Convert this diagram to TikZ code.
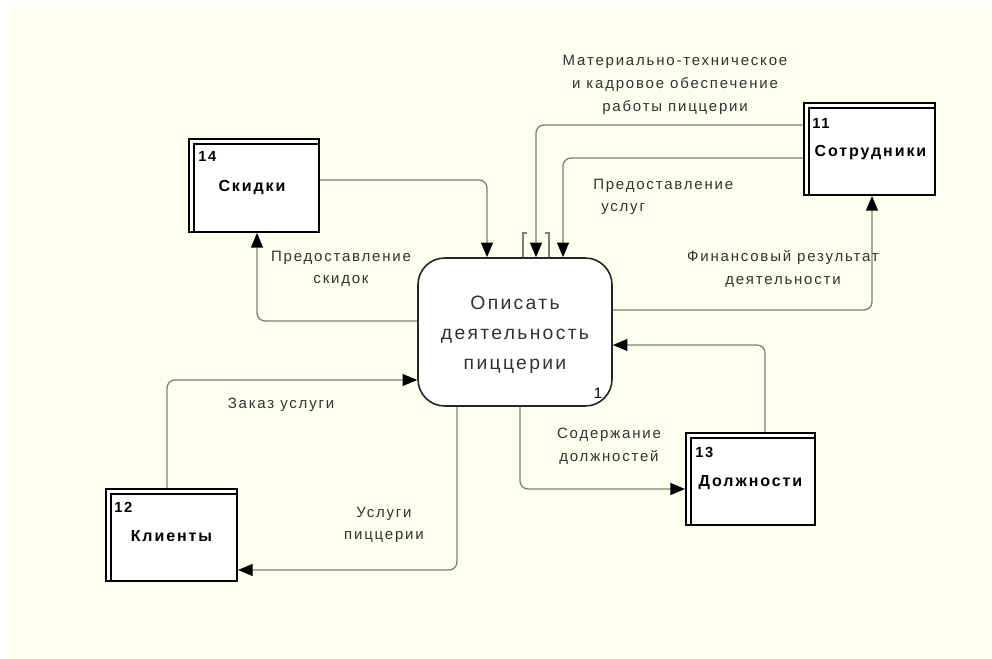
\documentclass[tikz,border=0pt]{standalone}
\usepackage{fontspec}
\setmainfont{Liberation Sans}[LetterSpace=12]
\usetikzlibrary{arrows.meta,calc}
\definecolor{paper}{RGB}{255,255,238}
\definecolor{wire}{RGB}{128,128,112}
\definecolor{ink}{RGB}{50,50,50}
\tikzset{
  entity/.style={draw=black, line width=1.5pt, fill=white, inner sep=0pt},
  process/.style={draw=black!85, line width=1.2pt, fill=white, rounded corners=20pt,
    minimum width={194*0.75pt}, minimum height={148*0.75pt}, inner sep=0pt},
  flow/.style={draw=wire, line width=1pt, rounded corners=6pt,
    -{Triangle[length=11pt,width=9pt,fill=black,color=black]}},
  flowlabel/.style={text=ink, align=center, inner sep=0pt,
    font=\fontsize{11.25}{17}\selectfont},
  entname/.style={font=\bfseries\fontsize{12}{13}\selectfont, inner sep=0pt},
  entnum/.style={font=\bfseries\fontsize{11}{12}\selectfont, inner sep=0pt, anchor=west},
}
\begin{document}
\begin{tikzpicture}[x=0.75pt,y=-0.75pt]
\useasboundingbox (0,0) rectangle (992,659);
\fill[paper] (9,5) rectangle (992,659);

% central process
\node[process] (main) at (515,332) {};
\node[font=\fontsize{14.5}{22.5}\selectfont, text=ink, align=center, inner sep=0pt] (maintext) at (515,335)
  {Описать\\деятельность\\пиццерии};
\node[font=\fontsize{11.25}{12}\selectfont, inner sep=0pt] (mainnum) at (598,393) {1};

% external entities
\node[entity, minimum width={130*0.75pt}, minimum height={93*0.75pt}] (s14) at (254,185.5) {};
\node[entity, minimum width={131*0.75pt}, minimum height={92*0.75pt}] (s11) at (869.5,149) {};
\node[entity, minimum width={131*0.75pt}, minimum height={92*0.75pt}] (s12) at (171.5,535) {};
\node[entity, minimum width={129*0.75pt}, minimum height={92*0.75pt}] (s13) at (750.5,479) {};
\foreach \e in {s14,s11,s12,s13}{
  \draw[line width=1.1pt] ($(\e.south west)+(6,0)$) -- ($(\e.north west)+(6,6)$) -- ($(\e.north east)+(0,6)$);
}
\node[entnum] (n14) at ($(s14.north west)+(10,18)$) {14};
\node[entname] (t14) at ($(s14.center)+(-2,2)$) {Скидки};
\node[entnum] (n11) at ($(s11.north west)+(9,21)$) {11};
\node[entname] (t11) at ($(s11.center)+(1,4)$) {Сотрудники};
\node[entnum] (n12) at ($(s12.north west)+(9,19)$) {12};
\node[entname] (t12) at ($(s12.center)+(0,1)$) {Клиенты};
\node[entnum] (n13) at ($(s13.north west)+(10,20)$) {13};
\node[entname] (t13) at ($(s13.center)+(0,4)$) {Должности};

% data flows
\draw[flow] (s14.east |- 0,180) -| (487,0 |- main.north);
\draw[flow] (s11.west |- 0,125) -| (536,0 |- main.north);
\draw[flow] (s11.west |- 0,158) -| (563,0 |- main.north);
\draw[flow] (main.east |- 0,310) -| (872,0 |- s11.south);
\draw[flow] (main.west |- 0,321) -| (257,0 |- s14.south);
\draw[flow] (167,0 |- s12.north) |- (main.west |- 0,380);
\draw[flow] (457,0 |- main.south) |- (s12.east |- 0,570);
\draw[flow] (520,0 |- main.south) |- (s13.west |- 0,489);
\draw[flow] (765,0 |- s13.north) |- (main.east |- 0,345);

% tunnel brackets
\draw[wire, line width=0.8pt] (527,233) -- (523,233) -- (523,0 |- main.north);
\draw[wire, line width=0.8pt] (545,233) -- (549,233) -- (549,0 |- main.north);

% flow labels
\node[flowlabel] (l1) at (675,85) {Материально-техническое\\и кадровое обеспечение\\работы пиццерии};
\node[flowlabel, align=left, anchor=west] (l2) at (593,197) {Предоставление\\\hspace*{15\pgflinewidth}услуг};
\node[flowlabel] (l3) at (783,269) {Финансовый результат\\деятельности};
\node[flowlabel] (l4) at (341,269) {Предоставление\\скидок};
\node[flowlabel] (l5) at (281,405) {Заказ услуги};
\node[flowlabel] (l6) at (384,525) {Услуги\\пиццерии};
\node[flowlabel] (l7) at (609,446) {Содержание\\должностей};
\end{tikzpicture}
\end{document}
